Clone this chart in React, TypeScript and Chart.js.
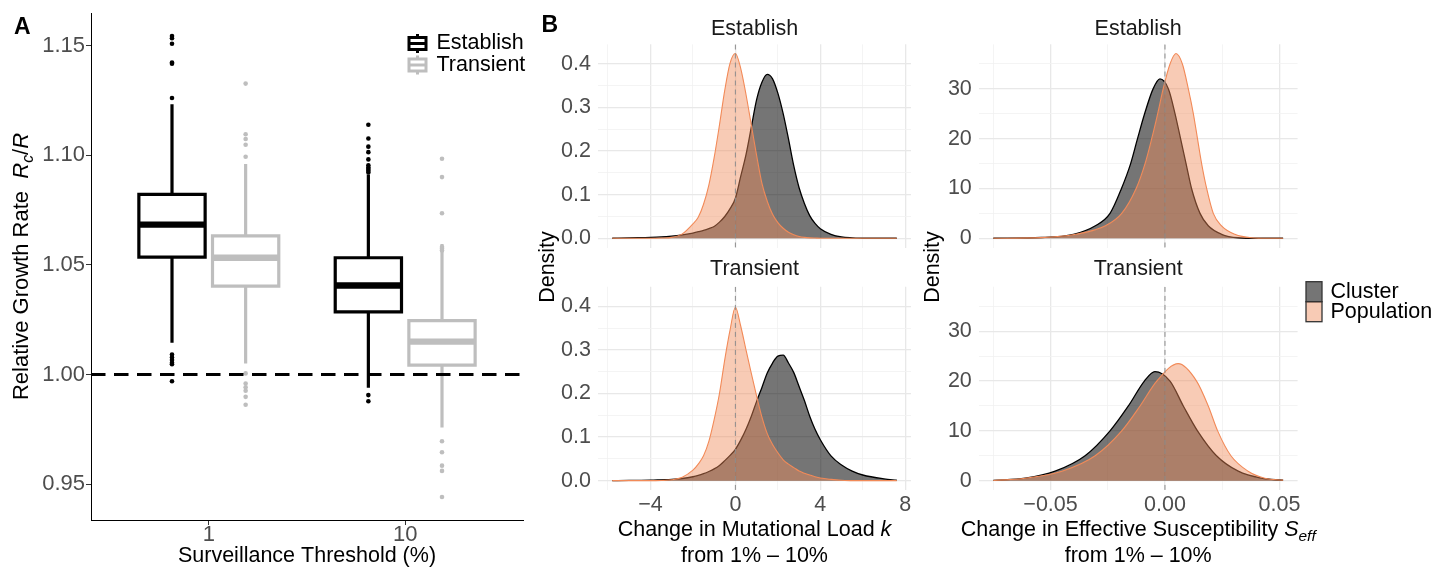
import React, { useEffect, useRef } from 'react';
import { Chart, registerables } from 'chart.js';

Chart.register(...registerables);

const PAGE_W = 1449;
const PAGE_H = 568;
const FAMILY = '"Liberation Sans", Arial, Helvetica, sans-serif';

// ---------------- Panel A: relative growth rate boxplots ----------------
const thresholdLabels = ['1', '10'];
const thresholdPos = [1, 2];
const groupNames = ['Establish', 'Transient'];

const establishQ1 = [1.0536, 1.0286];
const establishMedian = [1.0684, 1.0406];
const establishQ3 = [1.0822, 1.0533];
const establishLower = [1.0145, 0.9939];
const establishUpper = [1.1234, 1.0913];
const establishOutliers1 = [1.1545, 1.1535, 1.151, 1.1424, 1.1419, 1.1262, 1.0091, 1.0078, 1.0066, 1.0054, 1.0047, 0.9969];
const establishOutliers10 = [1.114, 1.1077, 1.104, 1.1015, 1.0982, 1.0955, 1.0945, 1.0938, 1.093, 1.0922, 0.9906, 0.9878];

const transientQ1 = [1.0403, 1.0043];
const transientMedian = [1.0533, 1.015];
const transientQ3 = [1.0633, 1.0246];
const transientLower = [1.005, 0.9758];
const transientUpper = [1.0961, 1.0596];
const transientOutliers1 = [1.1328, 1.1097, 1.1075, 1.1049, 1.0994, 1.0005, 0.9959, 0.9942, 0.9926, 0.9898, 0.9862];
const transientOutliers10 = [1.0985, 1.0901, 1.0736, 1.0582, 1.0574, 1.0566, 0.9695, 0.9645, 0.9584, 0.956, 0.9441];

const growthTicks = [0.95, 1.0, 1.05, 1.1, 1.15];
const referenceRate = 1.0;

// ---------------- Panel B: density curves ----------------
// change in mutational load k (shared grid)
const loadGrid = [-5.8, -5, -4, -3.5, -3, -2.5, -2, -1.75, -1.5, -1.25, -1, -0.75, -0.5, -0.25, 0, 0.25, 0.5, 0.75, 1, 1.25, 1.5, 1.75, 2, 2.25, 2.5, 2.75, 3, 3.25, 3.5, 3.75, 4, 4.5, 5, 5.5, 6, 7, 7.6];
const loadEstablishCluster = [0, 0.001, 0.002, 0.003, 0.005, 0.008, 0.012, 0.015, 0.018, 0.022, 0.027, 0.037, 0.05, 0.068, 0.092, 0.142, 0.192, 0.255, 0.318, 0.358, 0.376, 0.366, 0.333, 0.286, 0.228, 0.166, 0.116, 0.08, 0.052, 0.034, 0.022, 0.009, 0.003, 0.001, 0, 0, 0];
const loadEstablishPopulation = [0, 0, 0, 0.0005, 0.002, 0.01, 0.033, 0.048, 0.078, 0.122, 0.185, 0.26, 0.34, 0.402, 0.424, 0.39, 0.33, 0.26, 0.19, 0.126, 0.085, 0.055, 0.036, 0.023, 0.014, 0.008, 0.004, 0.002, 0.001, 0.0005, 0, 0, 0, 0, 0, 0, 0];
const loadTransientCluster = [0, 0.0005, 0.001, 0.002, 0.003, 0.005, 0.009, 0.012, 0.016, 0.021, 0.027, 0.035, 0.046, 0.058, 0.072, 0.093, 0.118, 0.148, 0.182, 0.214, 0.247, 0.27, 0.286, 0.288, 0.27, 0.248, 0.216, 0.184, 0.148, 0.118, 0.094, 0.057, 0.036, 0.022, 0.013, 0.004, 0.001];
const loadTransientPopulation = [0, 0, 0, 0.0005, 0.002, 0.008, 0.024, 0.038, 0.057, 0.09, 0.14, 0.2, 0.278, 0.346, 0.398, 0.355, 0.3, 0.246, 0.194, 0.146, 0.108, 0.083, 0.064, 0.048, 0.038, 0.03, 0.022, 0.017, 0.013, 0.009, 0.006, 0.003, 0.001, 0, 0, 0, 0];

// change in effective susceptibility S_eff
const suscEstablishClusterX = [-0.075, -0.054, -0.04, -0.0304, -0.024, -0.019, -0.015, -0.012, -0.0089, -0.0052, -0.0022, 0.0015, 0.0044, 0.0068, 0.0092, 0.0116, 0.0153, 0.0189, 0.0247, 0.032, 0.04, 0.0516];
const suscEstablishClusterY = [0, 0.15, 0.8, 2.5, 5, 10, 15, 20, 25, 30, 32, 30, 25, 20, 15, 10, 5, 2.5, 0.8, 0.1, 0, 0];
const suscEstablishPopulationX = [-0.075, -0.054, -0.039, -0.026, -0.0189, -0.0126, -0.0087, -0.0058, -0.0032, -0.0008, 0.0022, 0.0048, 0.0076, 0.0102, 0.0124, 0.0142, 0.016, 0.0182, 0.0211, 0.0247, 0.0305, 0.0378, 0.045, 0.0516];
const suscEstablishPopulationY = [0, 0.13, 0.8, 2.5, 5, 10, 15, 20, 25, 30, 35, 37.1, 35, 30, 25, 20, 15, 10, 5, 2.5, 0.8, 0.1, 0, 0];
const suscTransientClusterX = [-0.075, -0.061, -0.048, -0.0349, -0.024, -0.016, -0.009, -0.0044, 0.0022, 0.008, 0.0142, 0.0225, 0.032, 0.042, 0.0516];
const suscTransientClusterY = [0.05, 0.5, 1.9, 5, 10, 15, 20, 21.9, 20, 15, 10, 5, 1.9, 0.5, 0.08];
const suscTransientPopulationX = [-0.075, -0.061, -0.045, -0.0305, -0.0189, -0.0109, -0.0036, 0.0058, 0.0138, 0.0189, 0.023, 0.0288, 0.0363, 0.0436, 0.0516];
const suscTransientPopulationY = [0.02, 0.5, 1.9, 5, 10, 15, 20, 23.5, 20, 15, 10, 5, 1.9, 0.5, 0.1];

const loadTicks = [-6, -4, -2, 0, 2, 4, 6, 8];
const loadMajor = [-4, 0, 4, 8];
const loadLabels = ['\u22124', '0', '4', '8'];
const suscTicks = [-0.075, -0.05, -0.025, 0, 0.025, 0.05];
const suscMajor = [-0.05, 0, 0.05];
const suscLabels = ['\u22120.05', '0.00', '0.05'];
const loadDensTicks = [0, 0.05, 0.1, 0.15, 0.2, 0.25, 0.3, 0.35, 0.4];
const loadDensMajor = [0, 0.1, 0.2, 0.3, 0.4];
const loadDensLabels = ['0.0', '0.1', '0.2', '0.3', '0.4'];
const suscDensTicks = [0, 5, 10, 15, 20, 25, 30, 35];
const suscDensMajor = [0, 10, 20, 30];
const suscDensLabels = ['0', '10', '20', '30'];

// ---------------- helpers ----------------
type Area = { l: number; t: number; r: number; b: number };
type Part = { t: string; it?: boolean; sub?: boolean };

function fontStr(size: number, italic = false, bold = false) {
  return `${italic ? 'italic ' : ''}${bold ? 'bold ' : ''}${size}px ${FAMILY}`;
}

function drawParts(ctx: CanvasRenderingContext2D, parts: Part[], cx: number, cy: number, size: number, color: string, align: 'center' | 'left' = 'center') {
  ctx.save();
  ctx.fillStyle = color;
  ctx.textBaseline = 'middle';
  ctx.textAlign = 'left';
  const widths = parts.map((p) => {
    ctx.font = fontStr(p.sub ? size * 0.72 : size, !!p.it);
    return ctx.measureText(p.t).width;
  });
  const total = widths.reduce((a, b) => a + b, 0);
  let x = align === 'center' ? cx - total / 2 : cx;
  parts.forEach((p, i) => {
    ctx.font = fontStr(p.sub ? size * 0.72 : size, !!p.it);
    ctx.fillText(p.t, x, cy + (p.sub ? size * 0.3 : 0));
    x += widths[i];
  });
  ctx.restore();
}

function labelFor(v: number, majors: number[], labels: string[]) {
  const i = majors.findIndex((m) => Math.abs(m - v) < 1e-7);
  return i >= 0 ? labels[i] : '';
}
function isMajor(v: number, majors: number[]) {
  return majors.some((m) => Math.abs(m - v) < 1e-7);
}
function expand(min: number, max: number): [number, number] {
  const d = (max - min) * 0.05;
  return [min - d, max + d];
}

// ---------------- Panel A chart ----------------
function makePanelA(canvas: HTMLCanvasElement) {
  const area: Area = { l: 91, t: 13, r: 523, b: 520 };
  const yW = 91;
  const xH = PAGE_H - area.b;
  const dodge = [-0.1875, 0.1875];
  const boxW = 0.3375;
  const colors = ['#000000', '#BEBEBE'];
  const stats = [
    { q1: establishQ1, med: establishMedian, q3: establishQ3, lo: establishLower, hi: establishUpper, outs: [establishOutliers1, establishOutliers10] },
    { q1: transientQ1, med: transientMedian, q3: transientQ3, lo: transientLower, hi: transientUpper, outs: [transientOutliers1, transientOutliers10] },
  ];
  const allVals = ([] as number[]).concat(establishOutliers1, establishOutliers10, transientOutliers1, transientOutliers10, establishLower, transientLower, establishUpper, transientUpper);
  const yRange = expand(Math.min(...allVals), Math.max(...allVals));
  const xRange: [number, number] = [0.4, 2.6];

  const datasets: any[] = [];
  stats.forEach((s, g) => {
    thresholdPos.forEach((pos, c) => {
      const cx = pos + dodge[g];
      const x0 = cx - boxW / 2;
      const x1 = cx + boxW / 2;
      const col = colors[g];
      datasets.push({
        label: `${groupNames[g]} box ${thresholdLabels[c]}`,
        data: [{ x: x0, y: s.q1[c] }, { x: x1, y: s.q1[c] }, { x: x1, y: s.q3[c] }, { x: x0, y: s.q3[c] }, { x: x0, y: s.q1[c] }],
        borderColor: col, borderWidth: 3.2, borderJoinStyle: 'miter', borderCapStyle: 'square',
        pointRadius: 0, fill: false, tension: 0, order: 2,
      });
      datasets.push({
        label: `${groupNames[g]} median ${thresholdLabels[c]}`,
        data: [{ x: x0, y: s.med[c] }, { x: x1, y: s.med[c] }],
        borderColor: col, borderWidth: 6.4, borderCapStyle: 'butt', pointRadius: 0, fill: false, order: 2,
      });
      datasets.push({
        label: `${groupNames[g]} whiskers ${thresholdLabels[c]}`,
        data: [{ x: cx, y: s.q3[c] }, { x: cx, y: s.hi[c] }, { x: cx, y: null }, { x: cx, y: s.q1[c] }, { x: cx, y: s.lo[c] }],
        borderColor: col, borderWidth: 3.2, borderCapStyle: 'butt', pointRadius: 0, fill: false, spanGaps: false, order: 2,
      });
      datasets.push({
        label: `${groupNames[g]} outliers ${thresholdLabels[c]}`,
        data: s.outs[c].map((v) => ({ x: cx, y: v })),
        showLine: false, pointRadius: 2.3, pointBorderWidth: 0, pointBackgroundColor: col, pointStyle: 'circle', order: 2,
      });
    });
  });
  datasets.push({
    label: 'reference',
    data: [{ x: xRange[0], y: referenceRate }, { x: xRange[1], y: referenceRate }],
    borderColor: '#000', borderWidth: 3, borderDash: [14.5, 8.5], borderCapStyle: 'butt', pointRadius: 0, fill: false, order: 0,
  });

  const textPlugin = {
    id: 'panelAText',
    afterDraw(chart: any) {
      const ctx: CanvasRenderingContext2D = chart.ctx;
      ctx.save();
      ctx.fillStyle = '#000';
      ctx.font = fontStr(23, false, true);
      ctx.textBaseline = 'alphabetic';
      ctx.textAlign = 'left';
      ctx.fillText('A', 14, 34);
      ctx.restore();
      // y title
      ctx.save();
      ctx.translate(21.5, (area.t + area.b) / 2);
      ctx.rotate(-Math.PI / 2);
      drawParts(ctx, [{ t: 'Relative Growth Rate  ' }, { t: 'R', it: true }, { t: 'c', it: true, sub: true }, { t: '/' }, { t: 'R', it: true }], 0, 0, 22, '#000');
      ctx.restore();
      // x title
      drawParts(ctx, [{ t: 'Surveillance Threshold (%)' }], (area.l + area.r) / 2, 556, 21.5, '#000');
      // legend
      const keys = [43.5, 65];
      keys.forEach((ky, g) => {
        const kx = 417.5;
        ctx.save();
        ctx.strokeStyle = colors[g];
        ctx.lineWidth = 3;
        ctx.beginPath();
        ctx.moveTo(kx, ky - 9.5); ctx.lineTo(kx, ky - 6);
        ctx.moveTo(kx, ky + 6); ctx.lineTo(kx, ky + 9.5);
        ctx.stroke();
        ctx.fillStyle = '#fff';
        ctx.fillRect(kx - 8.5, ky - 6, 17, 12);
        ctx.strokeRect(kx - 8.5, ky - 6, 17, 12);
        ctx.beginPath();
        ctx.moveTo(kx - 8.5, ky); ctx.lineTo(kx + 8.5, ky);
        ctx.stroke();
        ctx.restore();
        drawParts(ctx, [{ t: groupNames[g] }], 436.5, ky, 21.5, '#000', 'left');
      });
    },
  };

  return new Chart(canvas, {
    type: 'line',
    data: { datasets },
    plugins: [textPlugin],
    options: {
      animation: false,
      responsive: false,
      events: [],
      layout: { padding: { left: area.l - yW, top: area.t, right: PAGE_W - area.r, bottom: PAGE_H - area.b - xH } },
      plugins: { legend: { display: false }, tooltip: { enabled: false } },
      scales: {
        x: {
          type: 'linear', min: xRange[0], max: xRange[1],
          afterBuildTicks: (s: any) => { s.ticks = thresholdPos.map((v) => ({ value: v })); },
          afterFit: (s: any) => { s.height = xH; },
          ticks: {
            autoSkip: false, maxRotation: 0, padding: -1, color: '#4D4D4D',
            font: { family: FAMILY, size: 22, lineHeight: 1 },
            callback: (v: any) => labelFor(+v, thresholdPos, thresholdLabels),
          },
          grid: { drawOnChartArea: false, drawTicks: true, tickLength: 5, color: '#333', lineWidth: 1 },
          border: { display: true, color: '#000', width: 1 },
        },
        y: {
          type: 'linear', min: yRange[0], max: yRange[1],
          afterBuildTicks: (s: any) => { s.ticks = growthTicks.map((v) => ({ value: v })); },
          afterFit: (s: any) => { s.width = yW; },
          ticks: {
            autoSkip: false, padding: 1, color: '#4D4D4D',
            font: { family: FAMILY, size: 22, lineHeight: 1 },
            callback: (v: any) => (+v).toFixed(2),
          },
          grid: { drawOnChartArea: false, drawTicks: true, tickLength: 5, color: '#333', lineWidth: 1 },
          border: { display: true, color: '#000', width: 1 },
        },
      },
    } as any,
  });
}

// ---------------- Panel B charts ----------------
type DensOpts = {
  area: Area;
  clusterX: number[]; clusterY: number[];
  populationX: number[]; populationY: number[];
  xRange: [number, number];
  yRange: [number, number];
  xTicks: number[]; xMajor: number[]; xLabels: string[];
  yTicks: number[]; yMajor: number[]; yLabels: string[];
  showXLabels: boolean;
  draw: (ctx: CanvasRenderingContext2D, area: Area) => void;
};

function makeDensity(canvas: HTMLCanvasElement, o: DensOpts) {
  const yW = 60;
  const xH = o.showXLabels ? 40 : 0;
  const toPts = (xs: number[], ys: number[]) => xs.map((x, i) => ({ x, y: ys[i] }));
  const gridColor = (majors: number[]) => (c: any) => (c.tick && isMajor(c.tick.value, majors) ? '#E8E8E8' : '#F1F1F1');
  const gridWidth = (majors: number[]) => (c: any) => (c.tick && isMajor(c.tick.value, majors) ? 1.3 : 0.8);
  const textPlugin = {
    id: 'densText',
    afterDraw(chart: any) { o.draw(chart.ctx, o.area); },
  };
  return new Chart(canvas, {
    type: 'line',
    data: {
      datasets: [
        { label: 'Cluster', data: toPts(o.clusterX, o.clusterY), borderColor: '#000', borderWidth: 1.3, backgroundColor: 'rgba(0,0,0,0.54)', fill: 'origin', pointRadius: 0, cubicInterpolationMode: 'monotone', order: 2 },
        { label: 'Population', data: toPts(o.populationX, o.populationY), borderColor: '#F28A58', borderWidth: 1.1, backgroundColor: 'rgba(240,140,90,0.45)', fill: 'origin', pointRadius: 0, cubicInterpolationMode: 'monotone', order: 1 },
        { label: 'zero', data: [{ x: 0, y: o.yRange[0] }, { x: 0, y: o.yRange[1] }], borderColor: '#8C8C8C', borderWidth: 1, borderDash: [5, 4], pointRadius: 0, fill: false, order: 0 },
      ],
    },
    plugins: [textPlugin],
    options: {
      animation: false,
      responsive: false,
      events: [],
      layout: { padding: { left: o.area.l - yW, top: o.area.t, right: PAGE_W - o.area.r, bottom: PAGE_H - o.area.b - xH } },
      plugins: { legend: { display: false }, tooltip: { enabled: false } },
      scales: {
        x: {
          type: 'linear', min: o.xRange[0], max: o.xRange[1],
          afterBuildTicks: (s: any) => { s.ticks = o.xTicks.map((v) => ({ value: v })); },
          afterFit: (s: any) => { s.height = xH; },
          ticks: {
            display: o.showXLabels, autoSkip: false, maxRotation: 0, padding: 4, color: '#4D4D4D',
            font: { family: FAMILY, size: 21.5, lineHeight: 1 },
            callback: (v: any) => labelFor(+v, o.xMajor, o.xLabels),
          },
          grid: { drawTicks: false, color: gridColor(o.xMajor), lineWidth: gridWidth(o.xMajor) },
          border: { display: false },
        },
        y: {
          type: 'linear', min: o.yRange[0], max: o.yRange[1],
          afterBuildTicks: (s: any) => { s.ticks = o.yTicks.map((v) => ({ value: v })); },
          afterFit: (s: any) => { s.width = yW; },
          ticks: {
            autoSkip: false, padding: 7, color: '#4D4D4D',
            font: { family: FAMILY, size: 21.5, lineHeight: 1 },
            callback: (v: any) => labelFor(+v, o.yMajor, o.yLabels),
          },
          grid: { drawTicks: false, color: gridColor(o.yMajor), lineWidth: gridWidth(o.yMajor) },
          border: { display: false },
        },
      },
    } as any,
  });
}

function strip(ctx: CanvasRenderingContext2D, text: string, area: Area, y: number) {
  drawParts(ctx, [{ t: text }], (area.l + area.r) / 2, y, 21.5, '#1A1A1A');
}
function densityTitle(ctx: CanvasRenderingContext2D, x: number) {
  ctx.save();
  ctx.translate(x, 267);
  ctx.rotate(-Math.PI / 2);
  drawParts(ctx, [{ t: 'Density' }], 0, 0, 21.5, '#000');
  ctx.restore();
}

export default function App() {
  const r0 = useRef<HTMLCanvasElement>(null);
  const r1 = useRef<HTMLCanvasElement>(null);
  const r2 = useRef<HTMLCanvasElement>(null);
  const r3 = useRef<HTMLCanvasElement>(null);
  const r4 = useRef<HTMLCanvasElement>(null);

  useEffect(() => {
    const allSuscX = ([] as number[]).concat(suscEstablishClusterX, suscEstablishPopulationX, suscTransientClusterX, suscTransientPopulationX);
    const loadX = expand(Math.min(...loadGrid), Math.max(...loadGrid));
    const suscX = expand(Math.min(...allSuscX), Math.max(...allSuscX));
    const loadY = expand(0, Math.max(...loadEstablishCluster, ...loadEstablishPopulation, ...loadTransientCluster, ...loadTransientPopulation));
    const suscY = expand(0, Math.max(...suscEstablishClusterY, ...suscEstablishPopulationY, ...suscTransientClusterY, ...suscTransientPopulationY));

    const leftX = { l: 598, r: 911 };
    const rightX = { l: 978.8, r: 1297.6 };
    const topY = { t: 44.3, b: 247.5 };
    const botY = { t: 286.7, b: 489.9 };

    const loadAxes = { xRange: loadX, yRange: loadY, xTicks: loadTicks, xMajor: loadMajor, xLabels: loadLabels, yTicks: loadDensTicks, yMajor: loadDensMajor, yLabels: loadDensLabels };
    const suscAxes = { xRange: suscX, yRange: suscY, xTicks: suscTicks, xMajor: suscMajor, xLabels: suscLabels, yTicks: suscDensTicks, yMajor: suscDensMajor, yLabels: suscDensLabels };

    const charts: Chart[] = [];
    charts.push(makePanelA(r0.current!));
    charts.push(makeDensity(r1.current!, {
      area: { ...leftX, ...topY },
      clusterX: loadGrid, clusterY: loadEstablishCluster, populationX: loadGrid, populationY: loadEstablishPopulation,
      ...loadAxes, showXLabels: false,
      draw: (ctx, a) => {
        strip(ctx, 'Establish', a, 29);
        ctx.save();
        ctx.fillStyle = '#000';
        ctx.font = fontStr(23, false, true);
        ctx.textAlign = 'left';
        ctx.textBaseline = 'alphabetic';
        ctx.fillText('B', 541.5, 32);
        ctx.restore();
        densityTitle(ctx, 548);
      },
    }));
    charts.push(makeDensity(r2.current!, {
      area: { ...leftX, ...botY },
      clusterX: loadGrid, clusterY: loadTransientCluster, populationX: loadGrid, populationY: loadTransientPopulation,
      ...loadAxes, showXLabels: true,
      draw: (ctx, a) => {
        strip(ctx, 'Transient', a, 269);
        const cx = (a.l + a.r) / 2;
        drawParts(ctx, [{ t: 'Change in Mutational Load ' }, { t: 'k', it: true }], cx, 530, 21.5, '#000');
        drawParts(ctx, [{ t: 'from 1% \u2013 10%' }], cx, 556.5, 21.5, '#000');
      },
    }));
    charts.push(makeDensity(r3.current!, {
      area: { ...rightX, ...topY },
      clusterX: suscEstablishClusterX, clusterY: suscEstablishClusterY, populationX: suscEstablishPopulationX, populationY: suscEstablishPopulationY,
      ...suscAxes, showXLabels: false,
      draw: (ctx, a) => {
        strip(ctx, 'Establish', a, 29);
        densityTitle(ctx, 933);
      },
    }));
    charts.push(makeDensity(r4.current!, {
      area: { ...rightX, ...botY },
      clusterX: suscTransientClusterX, clusterY: suscTransientClusterY, populationX: suscTransientPopulationX, populationY: suscTransientPopulationY,
      ...suscAxes, showXLabels: true,
      draw: (ctx, a) => {
        strip(ctx, 'Transient', a, 269);
        const cx = (a.l + a.r) / 2;
        drawParts(ctx, [{ t: 'Change in Effective Susceptibility ' }, { t: 'S', it: true }, { t: 'eff', it: true, sub: true }], cx, 530, 21.5, '#000');
        drawParts(ctx, [{ t: 'from 1% \u2013 10%' }], cx, 556.5, 21.5, '#000');
        const keys = [
          { name: 'Cluster', fill: 'rgba(0,0,0,0.54)', y: 281.7 },
          { name: 'Population', fill: 'rgba(240,140,90,0.45)', y: 301.7 },
        ];
        keys.forEach((k) => {
          ctx.save();
          ctx.fillStyle = k.fill;
          ctx.fillRect(1306, k.y, 16, 20);
          ctx.strokeStyle = '#333';
          ctx.lineWidth = 1.3;
          ctx.strokeRect(1306, k.y, 16, 20);
          ctx.restore();
          drawParts(ctx, [{ t: k.name }], 1330.5, k.y + 10, 21.5, '#000', 'left');
        });
      },
    }));
    return () => charts.forEach((c) => c.destroy());
  }, []);

  const cs: React.CSSProperties = { position: 'absolute', left: 0, top: 0 };
  return (
    <div style={{ position: 'absolute', left: 0, top: 0, width: PAGE_W, height: PAGE_H, background: '#fff', overflow: 'hidden' }}>
      <canvas ref={r0} width={PAGE_W} height={PAGE_H} style={cs} />
      <canvas ref={r1} width={PAGE_W} height={PAGE_H} style={cs} />
      <canvas ref={r2} width={PAGE_W} height={PAGE_H} style={cs} />
      <canvas ref={r3} width={PAGE_W} height={PAGE_H} style={cs} />
      <canvas ref={r4} width={PAGE_W} height={PAGE_H} style={cs} />
    </div>
  );
}
